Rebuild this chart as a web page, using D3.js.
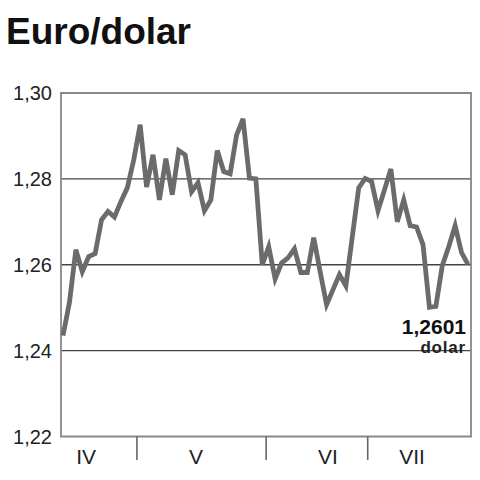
<!DOCTYPE html>
<html>
<head>
<meta charset="utf-8">
<script src="https://cdn.jsdelivr.net/npm/d3@7"></script>
<style>
  body { margin: 0; background: #fff; }
  svg { display: block; font-family: "Liberation Sans", Arial, sans-serif; }
</style>
</head>
<body>
<svg id="chart" width="480" height="480"></svg>
<script>
// kurs euro/dolar, kolejne notowania
var rates = [
  1.2435, 1.2512, 1.2635, 1.2584, 1.2619, 1.2626, 1.2705, 1.2724, 1.2711, 1.2747,
  1.2779, 1.2844, 1.2926, 1.2781, 1.2856, 1.2751, 1.2847, 1.2763, 1.2866, 1.2856,
  1.2770, 1.2791, 1.2726, 1.2751, 1.2866, 1.2817, 1.2812, 1.2902, 1.2940, 1.2802,
  1.2800, 1.2600, 1.2642, 1.2567, 1.2604, 1.2616, 1.2637, 1.2582, 1.2582, 1.2663,
  1.2584, 1.2507, 1.2542, 1.2577, 1.2551, 1.2665, 1.2779, 1.2801, 1.2794, 1.2726,
  1.2774, 1.2823, 1.2700, 1.2751, 1.2691, 1.2688, 1.2647, 1.2501, 1.2503, 1.2598,
  1.2642, 1.2691, 1.2628, 1.2601
];

var yTicks = [1.22, 1.24, 1.26, 1.28, 1.30];
var months = ["IV", "V", "VI", "VII"];
var monthCenters = [3.6, 20.7, 41.2, 54.3];   // w indeksach notowan
var monthBreaks = [11.5, 31.6, 47.4];

var lastLabel = "1,2601";
var lastUnit = "dolar";

var svg = d3.select("#chart");

var plotLeft = 61, plotRight = 471, plotTop = 93, plotBottom = 436.5;

var x = d3.scaleLinear().domain([0, rates.length - 1]).range([63, 468]);
var y = d3.scaleLinear().domain([1.22, 1.30]).range([plotBottom, plotTop]);

var fmt = function(d) { return d3.format(".2f")(d).replace(".", ","); };

svg.append("text")
    .attr("x", 6)
    .attr("y", 44)
    .style("font-size", "37px")
    .style("font-weight", "bold")
    .style("fill", "#111")
    .text("Euro/dolar");

// linie siatki
svg.append("g")
    .selectAll("line")
    .data(yTicks.filter(function(d) { return d > 1.22 && d < 1.30; }))
    .enter().append("line")
    .attr("x1", plotLeft).attr("x2", plotRight)
    .attr("y1", function(d) { return y(d); })
    .attr("y2", function(d) { return y(d); })
    .style("stroke", "#444")
    .style("stroke-width", 1.3);

// ramka
svg.append("path")
    .attr("d", "M" + plotLeft + "," + y(1.30) + "H" + plotRight + "V" + plotBottom + "H" + plotLeft + "Z")
    .style("fill", "none")
    .style("stroke", "#888")
    .style("stroke-width", 1.8);

var yAxis = d3.axisLeft(y).tickValues(yTicks).tickFormat(fmt).tickSize(0).tickPadding(9);
var gy = svg.append("g")
    .attr("transform", "translate(" + plotLeft + ",0)")
    .call(yAxis);
gy.select(".domain").remove();
gy.selectAll("text")
    .style("font-size", "20px")
    .style("font-family", "'Liberation Sans', Arial, sans-serif")
    .style("fill", "#222")
    .attr("dy", "0.33em");

// podzialka miesiecy
svg.append("g")
    .selectAll("line")
    .data(monthBreaks)
    .enter().append("line")
    .attr("x1", function(d) { return x(d); })
    .attr("x2", function(d) { return x(d); })
    .attr("y1", plotBottom)
    .attr("y2", 460)
    .style("stroke", "#666")
    .style("stroke-width", 1.6);

svg.append("g")
    .selectAll("text")
    .data(months)
    .enter().append("text")
    .attr("x", function(d, i) { return x(monthCenters[i]); })
    .attr("y", 464)
    .attr("text-anchor", "middle")
    .style("font-size", "21px")
    .style("fill", "#222")
    .text(function(d) { return d; });

var line = d3.line()
    .x(function(d, i) { return x(i); })
    .y(function(d) { return y(d); });

svg.append("path")
    .datum(rates)
    .attr("d", line)
    .style("fill", "none")
    .style("stroke", "#6b6b6b")
    .style("stroke-width", 4.8)
    .style("stroke-linejoin", "miter");

svg.append("text")
    .attr("x", 466)
    .attr("y", 334)
    .attr("text-anchor", "end")
    .style("font-size", "21px")
    .style("font-weight", "bold")
    .style("fill", "#111")
    .text(lastLabel);

svg.append("text")
    .attr("x", 466)
    .attr("y", 353)
    .attr("text-anchor", "end")
    .style("font-size", "17px")
    .style("font-weight", "bold")
    .style("letter-spacing", "0.8px")
    .style("fill", "#222")
    .text(lastUnit);
</script>
</body>
</html>
